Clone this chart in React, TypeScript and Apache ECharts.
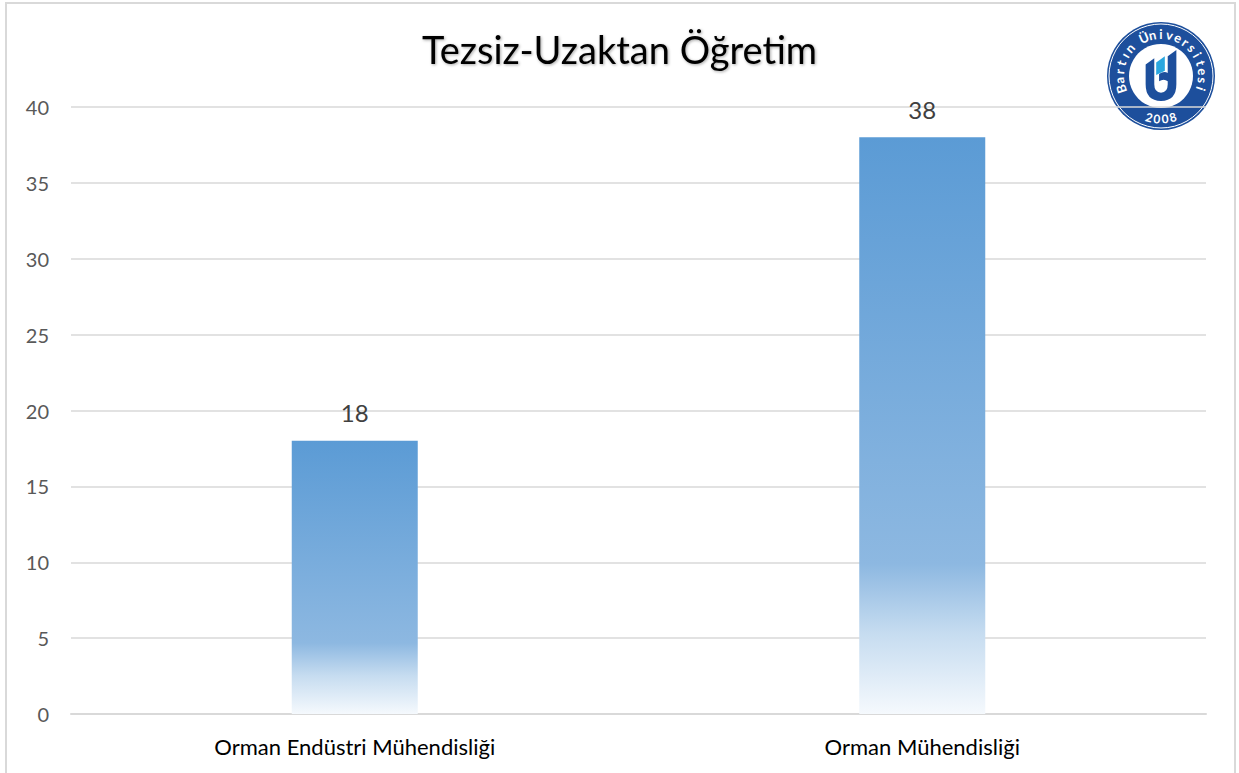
import React, { useEffect, useRef } from "react";
import * as echarts from "echarts";

const categories = ["Orman Endüstri Mühendisliği", "Orman Mühendisliği"];
const values = [18, 38];
const yTicks = [0, 5, 10, 15, 20, 25, 30, 35, 40];
const titleText = "Tezsiz-Uzaktan Öğretim";
const logoArcText = "Bartın Üniversitesi";
const logoYear = "2008";

const FONT = "Lato, 'Open Sans', 'DejaVu Sans', sans-serif";

const U_PATH =
  "M18 30 L36 18 L36 68 Q36 84 50 84 Q64 84 64 68 L64 62 Q56 56 46 62 L46 48 Q56 42 64 46 L64 14 L82 2 L82 68 Q82 100 50 100 Q18 100 18 68 Z";
const ACCENT_PATH = "M40 26 L58 14 L58 42 L40 50 Z";

let registered = false;
function registerShapes() {
  if (registered) return;
  registered = true;
  echarts.graphic.registerShape("logoU", echarts.graphic.extendPath(U_PATH, {}));
  echarts.graphic.registerShape("logoAccent", echarts.graphic.extendPath(ACCENT_PATH, {}));
}

function buildLogo() {
  const cx = 1161;
  const cy = 76;
  const blue = "#1d4f9c";
  const els: any[] = [
    { type: "rect", shape: { x: 1102, y: 14, width: 120, height: 124 }, style: { fill: "#fff" } },
    { type: "circle", shape: { cx, cy, r: 54 }, style: { fill: blue } },
    { type: "circle", shape: { cx, cy, r: 52 }, style: { fill: "none", stroke: "#fff", lineWidth: 1 } },
    { type: "circle", shape: { cx, cy, r: 32 }, style: { fill: "#fff" } },
  ];
  const chars = Array.from(logoArcText);
  const start = 198;
  const end = -18;
  const step = (start - end) / (chars.length - 1);
  const r = 42;
  chars.forEach((ch, i) => {
    const th = ((start - i * step) * Math.PI) / 180;
    els.push({
      type: "text",
      x: cx + r * Math.cos(th),
      y: cy - r * Math.sin(th),
      rotation: th - Math.PI / 2,
      style: {
        text: ch,
        fill: "#fff",
        font: `bold 13px ${FONT}`,
        align: "center",
        verticalAlign: "middle",
      },
    });
  });
  const ychars = Array.from(logoYear);
  const ys = 254;
  const ye = 286;
  const ystep = (ye - ys) / (ychars.length - 1);
  ychars.forEach((ch, i) => {
    const th = ((ys + i * ystep) * Math.PI) / 180;
    els.push({
      type: "text",
      x: cx + 43 * Math.cos(th),
      y: cy - 43 * Math.sin(th),
      rotation: th - (3 * Math.PI) / 2,
      style: {
        text: ch,
        fill: "#fff",
        font: `bold 12px ${FONT}`,
        align: "center",
        verticalAlign: "middle",
      },
    });
  });
  els.push({
    type: "logoU",
    x: cx - 24,
    y: cy - 27,
    scaleX: 0.48,
    scaleY: 0.52,
    style: { fill: blue },
  });
  els.push({
    type: "logoAccent",
    x: cx - 24,
    y: cy - 27,
    scaleX: 0.48,
    scaleY: 0.52,
    style: { fill: "#2aa7df" },
  });
  return els;
}

export default function App() {
  const ref = useRef<HTMLDivElement>(null);
  useEffect(() => {
    registerShapes();
    const chart = echarts.init(ref.current!, undefined, { renderer: "svg" });
    const gradient = new echarts.graphic.LinearGradient(0, 0, 0, 1, [
      { offset: 0, color: "#5b9bd5" },
      { offset: 0.74, color: "#8db8e1" },
      { offset: 0.86, color: "#c6dcf0" },
      { offset: 1, color: "#f5f9fd" },
    ]);
    chart.setOption({
      animation: false,
      backgroundColor: "#ffffff",
      title: {
        text: titleText,
        left: "center",
        top: 25,
        textStyle: {
          fontFamily: FONT,
          fontSize: 38,
          fontWeight: "normal",
          color: "#000",
          textShadowColor: "rgba(0,0,0,0.35)",
          textShadowBlur: 3,
          textShadowOffsetX: 1,
          textShadowOffsetY: 1,
        },
      },
      grid: { left: 71, right: 33, top: 107, bottom: 59, containLabel: false },
      xAxis: {
        type: "category",
        data: categories,
        axisTick: { show: false },
        axisLine: { lineStyle: { color: "#d9d9d9", width: 2 } },
        axisLabel: { fontFamily: FONT, fontSize: 22, color: "#000", margin: 21 },
      },
      yAxis: {
        type: "value",
        min: 0,
        max: yTicks[yTicks.length - 1],
        interval: yTicks[1] - yTicks[0],
        axisLine: { show: false },
        axisTick: { show: false },
        splitLine: { lineStyle: { color: "#d9d9d9", width: 1.5 } },
        axisLabel: { fontFamily: FONT, fontSize: 20, color: "#595959", margin: 22 },
      },
      series: [
        {
          type: "bar",
          data: values,
          barWidth: 126,
          itemStyle: { color: gradient },
          label: {
            show: true,
            position: "top",
            distance: 16,
            fontFamily: FONT,
            fontSize: 24,
            color: "#404040",
          },
        },
      ],
      graphic: [
        {
          type: "rect",
          shape: { x: 6, y: 3, width: 1229, height: 800 },
          style: { fill: "none", stroke: "#d9d9d9", lineWidth: 2 },
          z: 100,
        },
        ...buildLogo(),
      ],
    });
    return () => chart.dispose();
  }, []);
  return (
    <div
      ref={ref}
      style={{ position: "absolute", left: 0, top: 0, width: 1239, height: 773 }}
    />
  );
}
